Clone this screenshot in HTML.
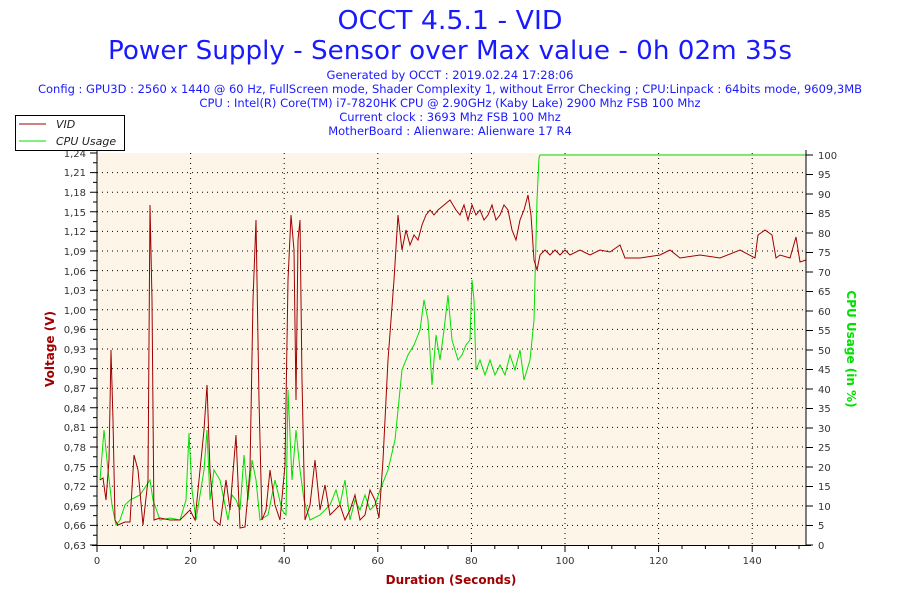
<!DOCTYPE html>
<html><head><meta charset="utf-8"><style>
body{margin:0;background:#fff;width:900px;height:600px;overflow:hidden}
svg{display:block;font-family:"DejaVu Sans","Liberation Sans",sans-serif}
</style></head><body>
<svg width="900" height="600" viewBox="0 0 900 600">
<g fill="#1a1aff" text-anchor="middle">
<text x="450" y="29" font-size="26" textLength="225" lengthAdjust="spacingAndGlyphs">OCCT 4.5.1 - VID</text>
<text x="450" y="59" font-size="26" textLength="684" lengthAdjust="spacingAndGlyphs">Power Supply - Sensor over Max value - 0h 02m 35s</text>
<text x="450" y="79" font-size="11.5">Generated by OCCT : 2019.02.24 17:28:06</text>
<text x="450" y="93" font-size="11.5" textLength="824" lengthAdjust="spacingAndGlyphs">Config : GPU3D : 2560 x 1440 @ 60 Hz, FullScreen mode, Shader Complexity 1, without Error Checking ; CPU:Linpack : 64bits mode, 9609,3MB</text>
<text x="450" y="107" font-size="11.5">CPU : Intel(R) Core(TM) i7-7820HK CPU @ 2.90GHz (Kaby Lake) 2900 Mhz FSB 100 Mhz</text>
<text x="450" y="121" font-size="11.5">Current clock : 3693 Mhz FSB 100 Mhz</text>
<text x="450" y="135" font-size="11.5">MotherBoard : Alienware: Alienware 17 R4</text>
</g>
<rect x="97" y="153" width="709" height="392" fill="#fdf5e8"/>
<g stroke="#000" stroke-dasharray="1,4" stroke-width="1">
<line x1="190.6" y1="153" x2="190.6" y2="545"/><line x1="284.2" y1="153" x2="284.2" y2="545"/><line x1="377.8" y1="153" x2="377.8" y2="545"/><line x1="471.4" y1="153" x2="471.4" y2="545"/><line x1="565" y1="153" x2="565" y2="545"/><line x1="658.6" y1="153" x2="658.6" y2="545"/><line x1="752.2" y1="153" x2="752.2" y2="545"/>
<line x1="97" y1="525.4" x2="806" y2="525.4"/><line x1="97" y1="505.8" x2="806" y2="505.8"/><line x1="97" y1="486.2" x2="806" y2="486.2"/><line x1="97" y1="466.6" x2="806" y2="466.6"/><line x1="97" y1="447" x2="806" y2="447"/><line x1="97" y1="427.4" x2="806" y2="427.4"/><line x1="97" y1="407.8" x2="806" y2="407.8"/><line x1="97" y1="388.2" x2="806" y2="388.2"/><line x1="97" y1="368.6" x2="806" y2="368.6"/><line x1="97" y1="349" x2="806" y2="349"/><line x1="97" y1="329.4" x2="806" y2="329.4"/><line x1="97" y1="309.8" x2="806" y2="309.8"/><line x1="97" y1="290.2" x2="806" y2="290.2"/><line x1="97" y1="270.6" x2="806" y2="270.6"/><line x1="97" y1="251" x2="806" y2="251"/><line x1="97" y1="231.4" x2="806" y2="231.4"/><line x1="97" y1="211.8" x2="806" y2="211.8"/><line x1="97" y1="192.2" x2="806" y2="192.2"/><line x1="97" y1="172.6" x2="806" y2="172.6"/>
</g>
<polyline fill="none" stroke="#00e000" stroke-width="1" points="100,480 104,430 108,470 112,505 116,525 120,520 125,505 130,500 140,495 150,480 153,500 160,520 170,518 180,520 186,500 189,433 192,490 196,520 204,470 207,430 210,500 214,470 220,480 224,500 228,520 232,495 236,500 240,510 244,455 248,500 252,460 256,480 260,520 268,515 275,480 282,510 286,515 288,390 292,480 296,430 300,470 304,500 310,520 320,515 330,505 336,490 340,505 345,480 350,520 355,500 360,510 365,495 370,510 375,505 380,490 388,470 395,440 402,370 408,355 414,345 420,330 424,300 428,320 432,385 436,335 440,360 444,330 448,295 452,340 458,360 462,355 466,345 470,340 472,280 474,300 476,370 480,360 485,375 490,360 495,375 500,365 505,375 510,355 515,370 520,350 524,380 530,360 534,320 537,200 539,158 540,155 806,155"/>
<polyline fill="none" stroke="#a00000" stroke-width="1" points="100,480 103,478 106,500 109,460 111,350 113,420 115,520 118,525 125,522 130,522 134,455 138,470 143,525 148,480 150,205 152,300 154,520 160,518 170,520 180,520 190,510 195,520 200,470 204,430 207,385 210,470 214,520 220,525 226,480 230,510 236,435 240,528 245,527 250,470 253,300 256,220 259,400 262,520 266,510 270,470 275,505 280,520 285,465 288,280 291,215 294,250 296,400 298,240 300,220 302,380 305,520 310,505 315,460 320,510 325,485 330,515 340,505 345,520 350,510 355,495 360,520 365,515 370,490 375,500 379,518 383,460 388,360 394,280 398,215 402,250 406,230 410,245 414,235 418,240 422,225 426,215 430,210 434,215 438,210 444,205 450,200 456,210 460,215 464,205 468,220 472,205 476,215 480,210 484,220 488,215 492,205 496,220 500,215 504,205 508,210 512,230 516,240 520,220 524,210 528,195 531,215 534,260 537,270 540,255 545,250 550,255 555,250 560,255 565,250 570,255 580,250 590,255 600,250 610,252 620,245 625,258 640,258 660,255 670,250 680,258 700,255 720,258 740,250 755,258 758,235 765,230 772,235 776,258 780,255 790,258 796,237 800,262 806,260"/>
<g stroke="#000" stroke-width="1">
<line x1="97" y1="150" x2="97" y2="545"/><line x1="806" y1="150" x2="806" y2="545"/><line x1="92" y1="545.5" x2="811" y2="545.5"/>
</g>
<g stroke="#000">
<path d="M90 545H97M90 525.4H97M90 505.8H97M90 486.2H97M90 466.6H97M90 447H97M90 427.4H97M90 407.8H97M90 388.2H97M90 368.6H97M90 349H97M90 329.4H97M90 309.8H97M90 290.2H97M90 270.6H97M90 251H97M90 231.4H97M90 211.8H97M90 192.2H97M90 172.6H97M90 153H97"/>
<path d="M93 535.2H97M93 515.6H97M93 496H97M93 476.4H97M93 456.8H97M93 437.2H97M93 417.6H97M93 398H97M93 378.4H97M93 358.8H97M93 339.2H97M93 319.6H97M93 300H97M93 280.4H97M93 260.8H97M93 241.2H97M93 221.6H97M93 202H97M93 182.4H97M93 162.8H97"/>
<path d="M806 545H813M806 525.5H813M806 506H813M806 486.5H813M806 467H813M806 447.5H813M806 428H813M806 408.5H813M806 389H813M806 369.5H813M806 350H813M806 330.5H813M806 311H813M806 291.5H813M806 272H813M806 252.5H813M806 233H813M806 213.5H813M806 194H813M806 174.5H813M806 155H813"/>
<path d="M97 545V552M190.6 545V552M284.2 545V552M377.8 545V552M471.4 545V552M565 545V552M658.6 545V552M752.2 545V552M120.4 545V549M143.8 545V549M167.2 545V549M214 545V549M237.4 545V549M260.8 545V549M307.6 545V549M331 545V549M354.4 545V549M401.2 545V549M424.6 545V549M448 545V549M494.8 545V549M518.2 545V549M541.6 545V549M588.4 545V549M611.8 545V549M635.2 545V549M682 545V549M705.4 545V549M728.8 545V549M775.6 545V549M799 545V549"/>
</g>
<g font-size="10" fill="#333" text-anchor="end">
<text x="86" y="549">0,63</text><text x="86" y="529">0,66</text><text x="86" y="510">0,69</text><text x="86" y="490">0,72</text><text x="86" y="471">0,75</text><text x="86" y="451">0,78</text><text x="86" y="431">0,81</text><text x="86" y="412">0,84</text><text x="86" y="392">0,87</text><text x="86" y="373">0,90</text><text x="86" y="353">0,93</text><text x="86" y="333">0,96</text><text x="86" y="314">1,00</text><text x="86" y="294">1,03</text><text x="86" y="275">1,06</text><text x="86" y="255">1,09</text><text x="86" y="235">1,12</text><text x="86" y="216">1,15</text><text x="86" y="196">1,18</text><text x="86" y="176">1,21</text><text x="86" y="157">1,24</text>
</g>
<g font-size="10" fill="#333">
<text x="818" y="549">0</text><text x="818" y="529">5</text><text x="818" y="510">10</text><text x="818" y="490">15</text><text x="818" y="471">20</text><text x="818" y="451">25</text><text x="818" y="432">30</text><text x="818" y="412">35</text><text x="818" y="393">40</text><text x="818" y="373">45</text><text x="818" y="354">50</text><text x="818" y="334">55</text><text x="818" y="315">60</text><text x="818" y="295">65</text><text x="818" y="276">70</text><text x="818" y="256">75</text><text x="818" y="237">80</text><text x="818" y="217">85</text><text x="818" y="198">90</text><text x="818" y="178">95</text><text x="818" y="159">100</text>
</g>
<g font-size="10" fill="#333" text-anchor="middle">
<text x="97" y="564">0</text><text x="190.6" y="564">20</text><text x="284.2" y="564">40</text><text x="377.8" y="564">60</text><text x="471.4" y="564">80</text><text x="565" y="564">100</text><text x="658.6" y="564">120</text><text x="752.2" y="564">140</text>
</g>
<text x="451" y="584" font-size="12" font-weight="bold" fill="#a00000" text-anchor="middle">Duration (Seconds)</text>
<text transform="translate(54,349) rotate(-90)" font-size="12" font-weight="bold" fill="#a00000" text-anchor="middle">Voltage (V)</text>
<text transform="translate(847,349) rotate(90)" font-size="12" font-weight="bold" fill="#00e000" text-anchor="middle">CPU Usage (in %)</text>
<rect x="15.5" y="115.5" width="109" height="35" fill="#fff" stroke="#000"/>
<line x1="19" y1="124" x2="46" y2="124" stroke="#a00000"/>
<line x1="19" y1="141" x2="46" y2="141" stroke="#00e000"/>
<g font-size="11" font-style="italic" fill="#222"><text x="56" y="128">VID</text><text x="56" y="145">CPU Usage</text></g>
</svg>
</body></html>
